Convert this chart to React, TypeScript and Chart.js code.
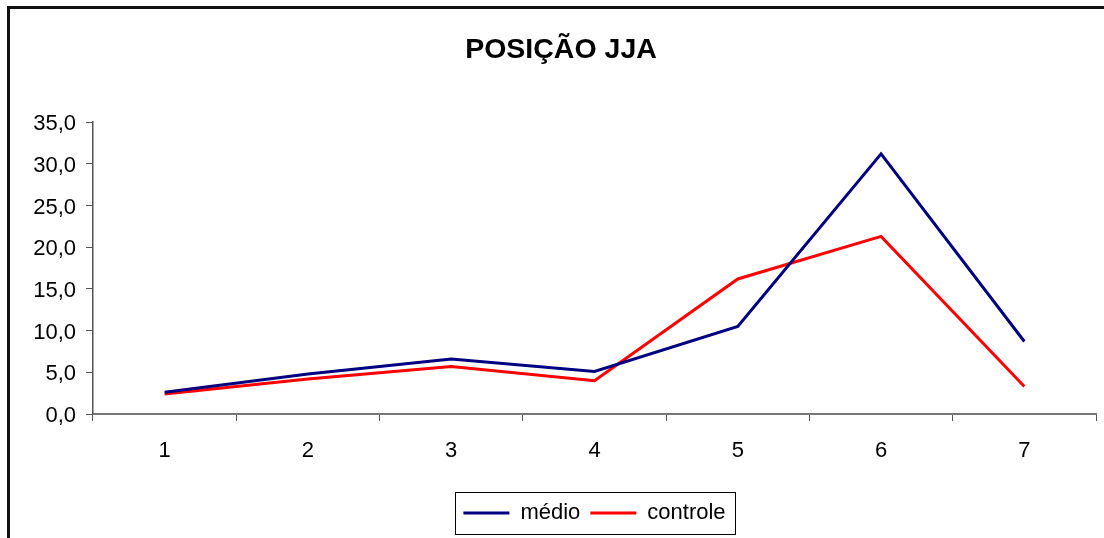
import React, { useEffect, useRef } from "react";
import { Chart, registerables } from "chart.js";

Chart.register(...registerables);

const categories = ["1", "2", "3", "4", "5", "6", "7"];
const medio = [2.6, 4.8, 6.6, 5.1, 10.5, 31.2, 8.7];
const controle = [2.4, 4.2, 5.7, 4.0, 16.2, 21.3, 3.3];
const titleText = "POSIÇÃO JJA";
const seriesNames = ["médio", "controle"];

const FONT = 'Arial, "Liberation Sans", sans-serif';

const legendBorder = {
  id: "legendBorder",
  afterDraw(chart: any) {
    const lg = chart.legend;
    if (!lg || !lg.legendHitBoxes || !lg.legendHitBoxes.length) return;
    const boxes = lg.legendHitBoxes;
    let l = Infinity, r = -Infinity, t = Infinity, b = -Infinity;
    for (const h of boxes) {
      l = Math.min(l, h.left);
      r = Math.max(r, h.left + h.width);
      t = Math.min(t, h.top);
      b = Math.max(b, h.top + h.height);
    }
    const ctx = chart.ctx;
    ctx.save();
    ctx.strokeStyle = "#000";
    ctx.lineWidth = 1;
    ctx.strokeRect(Math.round(l - 8) + 0.5, Math.round(t - 10) + 0.5, Math.round(r - l + 18), Math.round(b - t + 20));
    ctx.restore();
  },
};

export default function App() {
  const ref = useRef<HTMLCanvasElement>(null);
  useEffect(() => {
    const canvas = ref.current!;
    const chart = new Chart(canvas, {
      type: "line",
      data: {
        labels: categories,
        datasets: [
          {
            label: seriesNames[0],
            data: medio,
            borderColor: "#000080",
            backgroundColor: "#000080",
            borderWidth: 3,
            pointRadius: 0,
            tension: 0,
          },
          {
            label: seriesNames[1],
            data: controle,
            borderColor: "#ff0000",
            backgroundColor: "#ff0000",
            borderWidth: 3,
            pointRadius: 0,
            tension: 0,
          },
        ],
      },
      options: {
        responsive: false,
        animation: false,
        devicePixelRatio: 1,
        layout: { padding: { left: 10, right: 10, top: 0, bottom: 4 } },
        scales: {
          x: {
            offset: true,
            grid: {
              offset: true,
              drawOnChartArea: false,
              drawTicks: true,
              tickLength: 7,
              color: "#555",
              lineWidth: 1,
            },
            border: { color: "#777", width: 2 },
            ticks: { color: "#000", font: { family: FONT, size: 22 }, padding: 17, maxRotation: 0 },
            afterFit(scale: any) {
              scale.height = 78;
            },
          },
          y: {
            min: 0,
            max: 35,
            grid: {
              drawOnChartArea: false,
              drawTicks: true,
              tickLength: 7,
              color: "#555",
              lineWidth: 1,
            },
            border: { color: "#555", width: 1.5 },
            ticks: {
              stepSize: 5,
              color: "#000",
              font: { family: FONT, size: 22 },
              padding: 10,
              labelOffset: 2,
              callback: (v: any) => Number(v).toFixed(1).replace(".", ","),
            },
            afterFit(scale: any) {
              scale.width = 83;
            },
          },
          yPad: {
            position: "right",
            display: true,
            min: 0,
            max: 35,
            grid: { display: false, drawTicks: false },
            border: { display: false },
            ticks: { display: false },
            afterFit(scale: any) {
              scale.width = 16;
            },
          },
        },
        plugins: {
          title: {
            display: true,
            text: titleText,
            color: "#000",
            font: { family: FONT, size: 28.5, weight: "bold" },
            padding: { top: 33, bottom: 55 },
          },
          legend: {
            position: "bottom",
            fullSize: false,
            labels: {
              color: "#000",
              font: { family: FONT, size: 22 },
              boxWidth: 46,
              boxHeight: 3,
              padding: 10,
              generateLabels: (c: any) =>
                Chart.defaults.plugins.legend.labels.generateLabels(c).map((it: any) => ({ ...it, lineWidth: 0 })),
            },
          },
          tooltip: { enabled: false },
        },
      },
      plugins: [legendBorder],
    });
    return () => chart.destroy();
  }, []);

  return (
    <div style={{ position: "fixed", left: 0, top: 0, width: 1104, height: 538, overflow: "hidden", background: "#fff" }}>
      <div
        style={{
          position: "absolute",
          left: 7,
          top: 6,
          width: 1200,
          height: 700,
          border: "3px solid #111",
          boxSizing: "border-box",
        }}
      />
      <canvas ref={ref} width={1122} height={538} style={{ position: "absolute", left: 0, top: 0, display: "block" }} />
    </div>
  );
}
